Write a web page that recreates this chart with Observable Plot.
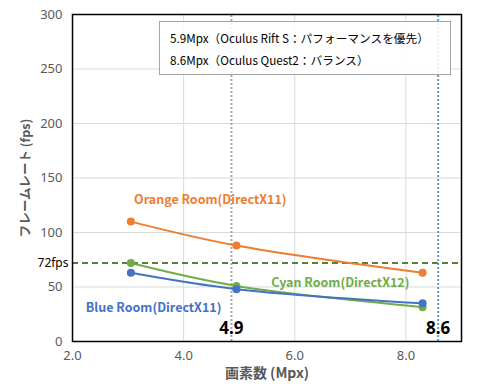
<!DOCTYPE html>
<html><head><meta charset="utf-8">
<script src="https://cdn.jsdelivr.net/npm/d3@7"></script>
<script src="https://cdn.jsdelivr.net/npm/@observablehq/plot@0.6"></script>
<style>
body{margin:0;background:#fff;font-family:"Noto Sans CJK JP","Noto Sans",sans-serif;}
#wrap{position:relative;width:487px;height:384px;}
#legend{position:absolute;left:159px;top:21px;width:292px;height:54px;box-sizing:border-box;border:1px solid #a6a6a6;background:rgba(255,255,255,0.88);font-size:11.7px;color:#000;padding:5px 0 0 10px;line-height:22px;white-space:nowrap;}
</style></head>
<body><div id="wrap"><div id="chart"></div>
<div id="legend"><div>5.9Mpx（Oculus Rift S：パフォーマンスを優先）</div><div>8.6Mpx（Oculus Quest2：バランス）</div></div></div>
<script>
const pixels = [3.05, 4.95, 8.3];
const orangeFps = [110, 88, 63];
const cyanFps = [72, 51, 31.5];
const blueFps = [63, 48, 35];
const targetFps = 72;
const xTicks = [2, 4, 6, 8];
const yTicks = [0, 50, 100, 150, 200, 250, 300];
const markers = [{x: 4.86, label: "4.9", color: "#a6a6a6"}, {x: 8.58, label: "8.6", color: "#5b9bd5"}];
const seriesNames = ["Orange Room(DirectX11)", "Cyan Room(DirectX12)", "Blue Room(DirectX11)"];
const seriesColors = ["#ed7d31", "#70ad47", "#4472c4"];
const seriesLabelPos = [{x: 4.48, y: 130}, {x: 6.82, y: 54}, {x: 3.46, y: 31}];

const rows = [];
[orangeFps, cyanFps, blueFps].forEach((vals, i) => vals.forEach((v, j) => rows.push({s: seriesNames[i], x: pixels[j], y: v})));
const labels = seriesNames.map((n, i) => ({s: n, ...seriesLabelPos[i]}));

const chart = Plot.plot({
  width: 487, height: 384,
  marginLeft: 72, marginRight: 26, marginTop: 14, marginBottom: 43,
  style: {fontFamily: "'Noto Sans', sans-serif", fontSize: "13px", color: "#595959", background: "#fff"},
  x: {domain: [2, 9], ticks: xTicks, tickFormat: d => d.toFixed(1), tickSize: 0, tickPadding: 9, label: null},
  y: {domain: [0, 300], ticks: yTicks, tickSize: 0, tickPadding: 10, label: null},
  color: {domain: seriesNames, range: seriesColors},
  marks: [
    Plot.gridX(xTicks, {stroke: "#d9d9d9", strokeOpacity: 1}),
    Plot.gridY(yTicks, {stroke: "#d9d9d9", strokeOpacity: 1}),
    Plot.ruleX(markers, {x: "x", y1: 0, y2: 300, stroke: "color", strokeWidth: 2, strokeDasharray: "2,2"}),
    Plot.ruleY([targetFps], {stroke: "#548235", strokeWidth: 2, strokeDasharray: "6,4"}),
    Plot.line(rows, {x: "x", y: "y", z: "s", stroke: "s", strokeWidth: 2, curve: "catmull-rom"}),
    Plot.dot(rows, {x: "x", y: "y", fill: "s", r: 4}),
    Plot.text(labels, {x: "x", y: "y", text: "s", fill: "s", fontWeight: "bold", fontSize: 12.5, fontFamily: "'Noto Sans CJK JP', sans-serif"}),
    Plot.text(markers, {x: "x", y: 12, text: "label", fill: "#000", fontWeight: "bold", fontSize: 17, fontFamily: "'Noto Sans', sans-serif"}),
    Plot.text([targetFps], {x: 2, y: d => d, text: d => d + "fps", dx: -4, textAnchor: "end", fill: "#000", fontSize: 12, fontFamily: "'Noto Sans', sans-serif"}),
    Plot.frame({stroke: "#000", strokeWidth: 1.5}),
    Plot.text(["画素数 (Mpx)"], {frameAnchor: "bottom", lineAnchor: "middle", textAnchor: "middle", dy: 32, fill: "#595959", fontWeight: "bold", fontSize: 14, fontFamily: "'Noto Sans CJK JP', sans-serif"}),
    Plot.text(["フレームレート (fps)"], {frameAnchor: "left", textAnchor: "middle", lineAnchor: "middle", dx: -47, rotate: -90, fill: "#595959", fontWeight: "bold", fontSize: 12.5, fontFamily: "'Noto Sans CJK JP', sans-serif"})
  ]
});
document.getElementById("chart").appendChild(chart);
</script></body></html>
